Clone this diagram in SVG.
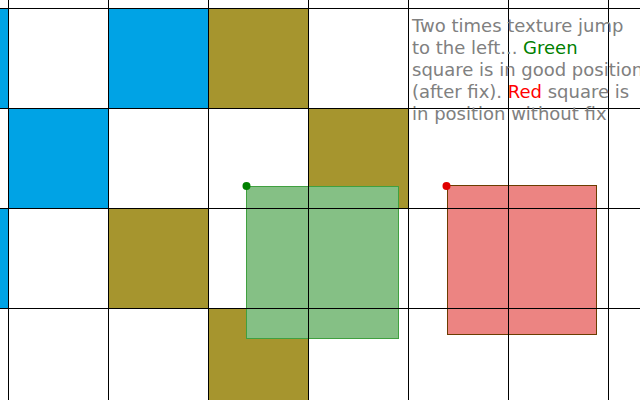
<svg xmlns="http://www.w3.org/2000/svg" width="640" height="400" viewBox="0 0 640 400">
<style>
.b{fill:#00a3e5}
.o{fill:#a6952e}
.g line{stroke:#000;stroke-width:1}
.t{font-family:"DejaVu Sans",sans-serif;font-size:18px;fill:#808080}
</style>
<rect width="640" height="400" fill="#fff"/>
<g id="cells">
<rect class="b" x="0" y="8" width="8.5" height="100"/>
<rect class="b" x="108" y="8" width="100" height="100"/>
<rect class="o" x="208" y="8" width="100" height="100"/>
<rect class="b" x="8" y="108" width="100" height="100"/>
<rect class="o" x="308" y="108" width="100" height="100"/>
<rect class="b" x="0" y="208" width="8.5" height="100"/>
<rect class="o" x="108" y="208" width="100" height="100"/>
<rect class="o" x="208" y="308" width="100" height="92"/>
</g>
<g id="green-square">
<rect x="246.5" y="186.5" width="152" height="152" fill="#85c085" stroke="#40a040" stroke-width="1"/>
</g>
<g id="red-square">
<rect x="447.5" y="185.5" width="149" height="149" fill="#ec8482" stroke="#6b3c00" stroke-width="1"/>
</g>
<g id="grid" class="g">
<line x1="8.5" y1="0" x2="8.5" y2="400"/>
<line x1="108.5" y1="0" x2="108.5" y2="400"/>
<line x1="208.5" y1="0" x2="208.5" y2="400"/>
<line x1="308.5" y1="0" x2="308.5" y2="400"/>
<line x1="408.5" y1="0" x2="408.5" y2="400"/>
<line x1="508.5" y1="0" x2="508.5" y2="400"/>
<line x1="608.5" y1="0" x2="608.5" y2="400"/>
<line x1="0" y1="8.5" x2="640" y2="8.5"/>
<line x1="0" y1="108.5" x2="640" y2="108.5"/>
<line x1="0" y1="208.5" x2="640" y2="208.5"/>
<line x1="0" y1="308.5" x2="640" y2="308.5"/>
</g>
<g id="dots">
<circle cx="246.5" cy="186" r="4" fill="#008000"/>
<circle cx="446.5" cy="186" r="4" fill="#e00000"/>
</g>
<g id="caption" class="t">
<text x="412" y="32">Two times texture jump</text>
<text x="412" y="54">to the left... <tspan fill="#008000">Green</tspan></text>
<text x="412" y="75.5">square is in good position</text>
<text x="412" y="97.5">(after fix). <tspan fill="#ff0000">Red</tspan> square is</text>
<text x="412" y="119.5">in position without fix</text>
</g>
</svg>
